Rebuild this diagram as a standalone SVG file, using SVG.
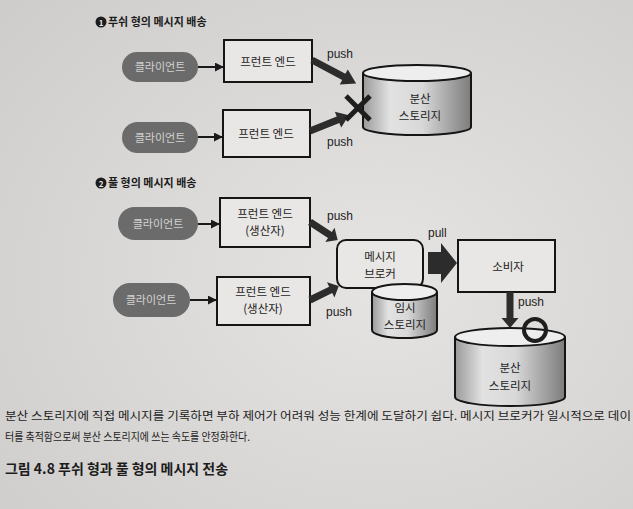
<svg xmlns="http://www.w3.org/2000/svg" width="633" height="509" viewBox="0 0 633 509">
<defs>
<radialGradient id="paper" cx="0.6" cy="0.55" r="0.8">
<stop offset="0" stop-color="#e6e4e2"/>
<stop offset="1" stop-color="#cfcdcb"/>
</radialGradient>
<linearGradient id="cyl" x1="0" y1="0" x2="1" y2="0">
<stop offset="0" stop-color="#9a9a9a"/>
<stop offset="0.25" stop-color="#e2e2e2"/>
<stop offset="0.55" stop-color="#d8d8d8"/>
<stop offset="1" stop-color="#7c7c7c"/>
</linearGradient>
<marker id="ah" viewBox="0 0 10 10" refX="9" refY="5" markerWidth="9" markerHeight="9" markerUnits="userSpaceOnUse" orient="auto">
<path d="M0,0 L10,5 L0,10 Z" fill="#1a1a1a"/>
</marker>
<path id="thick" d="M0,-3.5 L36,-3.5 L36,-8.5 L50,0 L36,8.5 L36,3.5 L0,3.5 Z"/>
</defs>
<style>
text{font-family:"Noto Sans CJK KR","Noto Sans",sans-serif;fill:#1c1c1c;}
.pill{fill:#6b6b6b;}
.pt{fill:#d2d2d2;font-size:11px;text-anchor:middle;}
.box{fill:#e9e7e5;stroke:#151515;stroke-width:2;}
.bt{font-size:11.5px;text-anchor:middle;}
.lab{font-family:"Liberation Sans",Arial,sans-serif;font-size:12px;}
.thin{stroke:#1a1a1a;stroke-width:2;fill:none;marker-end:url(#ah);}
.th{fill:#2c2c2c;}
.cylb{fill:url(#cyl);stroke:#151515;stroke-width:2;}
.cyltop{fill:#eeeeee;stroke:#151515;stroke-width:2;}
.sec{font-size:11px;font-weight:bold;}
.cap{font-size:11px;}
</style>
<rect width="633" height="509" fill="url(#paper)"/>

<!-- section 1 -->
<g id="title1">
<circle cx="101" cy="22" r="5.5" fill="#1c1c1c"/>
<text x="101" y="25.5" font-size="8" font-weight="bold" text-anchor="middle" style="fill:#e6e6e6">1</text>
<text class="sec" x="108" y="26">푸쉬 형의 메시지 배송</text>
</g>
<g id="client1"><rect class="pill" x="122" y="52" width="76" height="30" rx="15"/><text class="pt" x="160" y="71">클라이언트</text></g>
<g id="client2"><rect class="pill" x="122" y="122" width="76" height="31" rx="15.5"/><text class="pt" x="160" y="142">클라이언트</text></g>
<g id="fe1"><rect class="box" x="224" y="40" width="88" height="42"/><text class="bt" x="268" y="66">프런트 엔드</text></g>
<g id="fe2"><rect class="box" x="223" y="110" width="87" height="47"/><text class="bt" x="266" y="138">프런트 엔드</text></g>
<g id="storage1">
<path class="cylb" d="M363,73 L363,127 A54,8 0 0 0 471,127 L471,73"/>
<ellipse class="cyltop" cx="417" cy="73" rx="54" ry="8"/>
<text class="bt" x="420" y="103">분산</text>
<text class="bt" x="420" y="120">스토리지</text>
</g>

<!-- section 2 -->
<g id="title2">
<circle cx="101" cy="183" r="5.5" fill="#1c1c1c"/>
<text x="101" y="186.5" font-size="8" font-weight="bold" text-anchor="middle" style="fill:#e6e6e6">2</text>
<text class="sec" x="108" y="187">풀 형의 메시지 배송</text>
</g>
<g id="client3"><rect class="pill" x="118" y="207" width="80" height="33" rx="16.5"/><text class="pt" x="158" y="228">클라이언트</text></g>
<g id="client4"><rect class="pill" x="113" y="283" width="77" height="34" rx="17"/><text class="pt" x="151" y="304">클라이언트</text></g>
<g id="fe3"><rect class="box" x="220" y="198" width="90" height="49"/><text class="bt" x="265" y="218">프런트 엔드</text><text class="bt" x="265" y="235">(생산자)</text></g>
<g id="fe4"><rect class="box" x="217" y="277" width="93" height="48"/><text class="bt" x="263" y="296">프런트 엔드</text><text class="bt" x="263" y="313">(생산자)</text></g>
<g id="broker"><rect class="box" x="337" y="240" width="86" height="48" rx="9"/><text class="bt" x="380" y="261">메시지</text><text class="bt" x="380" y="278">브로커</text></g>
<g id="tempstorage">
<path class="cylb" d="M372,292 L372,330 A32.5,8 0 0 0 437,330 L437,292"/>
<ellipse class="cyltop" cx="404.5" cy="292" rx="32.5" ry="8"/>
<text class="bt" x="405" y="312">임시</text>
<text class="bt" x="405" y="329">스토리지</text>
</g>
<g id="consumer"><rect class="box" x="458" y="240" width="97" height="52"/><text class="bt" x="508" y="271">소비자</text></g>
<g id="storage2">
<path class="cylb" d="M455,337 L455,397 A55,9 0 0 0 565,397 L565,337"/>
<ellipse class="cyltop" cx="510" cy="337" rx="55" ry="9"/>
<text class="bt" x="510" y="372">분산</text>
<text class="bt" x="510" y="390">스토리지</text>
</g>

<!-- connectors -->
<g id="connectors">
<line class="thin" x1="198" y1="67" x2="223" y2="67"/>
<line class="thin" x1="198" y1="137" x2="222" y2="137"/>
<line class="thin" x1="198" y1="224" x2="219" y2="224"/>
<line class="thin" x1="190" y1="300" x2="216" y2="300"/>
<use href="#thick" class="th" transform="translate(312,60) rotate(28)"/>
<use href="#thick" class="th" transform="translate(310,131) rotate(-22) scale(0.84,1)"/>
<use href="#thick" class="th" transform="translate(310,222) rotate(33) scale(0.66,1)"/>
<use href="#thick" class="th" transform="translate(310,300) rotate(-26) scale(0.64,1)"/>
<use href="#thick" class="th" transform="translate(510,292) rotate(90) scale(0.72,1)"/>
<polygon class="th" points="428,252 441,252 441,243 457,263 441,283 441,274 428,274"/>
<g stroke="#1e1e1e" stroke-width="5" stroke-linecap="butt">
<line x1="346" y1="96" x2="370" y2="120"/>
<line x1="370" y1="96" x2="346" y2="120"/>
</g>
<circle cx="535" cy="330" r="11" fill="none" stroke="#1e1e1e" stroke-width="4"/>
<text class="lab" x="327" y="58">push</text>
<text class="lab" x="327" y="146">push</text>
<text class="lab" x="327" y="220">push</text>
<text class="lab" x="326" y="316">push</text>
<text class="lab" x="428" y="237">pull</text>
<text class="lab" x="518" y="306">push</text>
</g>

<!-- caption -->
<g id="caption">
<text class="cap" x="5" y="420" textLength="626" lengthAdjust="spacingAndGlyphs">분산 스토리지에 직접 메시지를 기록하면 부하 제어가 어려워 성능 한계에 도달하기 쉽다. 메시지 브로커가 일시적으로 데이</text>
<text class="cap" x="5" y="441" textLength="245" lengthAdjust="spacingAndGlyphs">터를 축적함으로써 분산 스토리지에 쓰는 속도를 안정화한다.</text>
<text x="5" y="474" font-size="14" font-weight="bold" textLength="223" lengthAdjust="spacingAndGlyphs">그림 4.8  푸쉬 형과 풀 형의 메시지 전송</text>
</g>
</svg>
